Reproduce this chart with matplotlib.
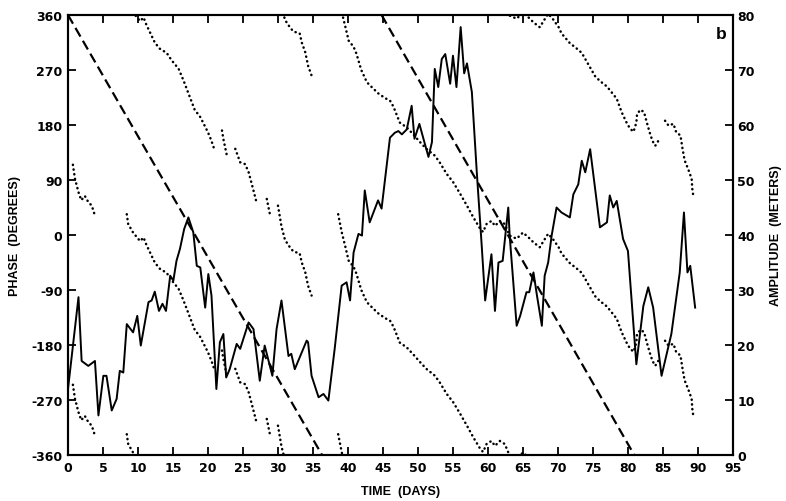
import matplotlib.pyplot as plt

plt.rcParams['font.family'] = ['Liberation Sans', 'DejaVu Sans']
plt.rcParams['font.weight'] = 'bold'
plt.rcParams['axes.labelweight'] = 'bold'
plt.rcParams['axes.unicode_minus'] = False

# amplitude (solid line, right axis)
amp_days = [0.0, 1.5, 1.95, 2.9, 3.85, 4.35, 5.05, 5.5, 6.25, 6.95, 7.4, 7.9, 8.4, 9.3, 9.9,
            10.4, 11.5, 11.95, 12.4, 13.0, 13.5, 14.0, 14.6, 15.05, 15.5, 16.0, 16.6, 17.2,
            17.9, 18.4, 18.9, 19.6, 20.05, 20.5, 21.2, 21.7, 22.2, 22.6, 23.1, 24.1, 24.6,
            25.8, 26.5, 27.4, 28.1, 28.6, 29.2, 29.8, 30.5, 31.5, 31.9, 32.4, 34.1, 34.3,
            34.8, 35.8, 36.5, 37.2, 38.1, 39.1, 39.8, 40.3, 40.8, 41.5, 42.0, 42.4, 43.1,
            44.3, 44.8, 46.0, 46.7, 47.2, 47.7, 48.4, 49.1, 49.5, 50.2, 51.5, 52.0, 52.4,
            52.9, 53.4, 53.9, 54.6, 55.0, 55.5, 56.1, 56.6, 57.0, 57.7, 58.4, 59.1, 59.6,
            60.5, 61.0, 61.5, 62.1, 62.9, 63.1, 64.1, 64.6, 65.5, 65.9, 66.5, 67.0, 67.7,
            68.1, 68.6, 69.1, 69.8, 70.5, 71.7, 72.2, 72.9, 73.4, 73.9, 74.6, 76.0, 77.0,
            77.4, 77.9, 78.4, 79.3, 80.0, 81.2, 82.2, 82.9, 83.6, 84.8, 86.2, 87.4, 88.0,
            88.5, 88.9, 89.6]
amp_vals = [12.0, 28.7, 17.1, 16.2, 17.1, 7.2, 14.4, 14.4, 8.1, 10.2, 15.3, 15.0, 23.8, 22.3, 25.3,
            19.9, 27.8, 28.1, 29.7, 26.2, 27.5, 26.2, 32.6, 31.7, 35.3, 37.5, 41.1, 43.2,
            40.5, 34.4, 34.1, 26.8, 32.9, 29.0, 12.0, 20.5, 22.0, 14.1, 15.6, 20.2, 19.3,
            24.1, 22.9, 13.5, 19.9, 17.4, 14.4, 22.9, 28.1, 18.0, 18.4, 15.6, 20.8, 20.5,
            14.4, 10.5, 11.1, 9.9, 19.3, 30.8, 31.4, 28.1, 36.8, 40.2, 39.9, 48.1, 42.3,
            46.3, 44.8, 57.7, 58.6, 58.9, 58.3, 59.2, 63.5, 57.5, 60.2, 54.2, 56.9, 70.2,
            66.9, 72.0, 72.9, 67.5, 72.6, 66.9, 77.8, 69.4, 71.2, 66.0, 51.5, 38.2, 28.1,
            36.5, 26.2, 35.0, 35.3, 45.0, 39.9, 23.5, 25.3, 29.6, 29.6, 33.2, 29.0, 23.5,
            32.6, 35.0, 39.9, 45.0, 44.1, 43.2, 47.4, 49.2, 53.5, 51.4, 55.6, 41.4, 42.3,
            47.2, 45.0, 46.2, 39.3, 37.1, 16.5, 27.1, 30.5, 26.8, 14.4, 22.0, 33.2, 44.1,
            33.2, 34.4, 26.8]

# phase (dotted, left axis), pieces with gaps; drawn modulo 360
phase_days = [
    [0.7, 1.0, 1.5, 1.9, 2.4, 2.9, 3.4, 3.9],
    [8.4, 8.6, 9.3, 10.3, 10.8, 11.2, 11.7, 12.4, 13.1, 14.1, 14.8, 15.8, 16.5, 17.2,
     17.7, 18.1, 18.9, 19.3, 20.0, 20.5, 21.0],
    [22.0, 22.2, 22.7],
    [23.9, 24.6, 25.3, 25.8, 26.2, 26.9],
    [28.4, 28.9],
    [30.0, 30.5, 31.0, 31.7, 32.2, 33.1, 33.4, 33.9, 34.3, 34.8],
    [38.6, 39.1, 39.6, 40.1, 40.8, 41.2, 41.9, 42.7, 43.4, 44.3, 45.3, 46.0, 46.5, 47.4,
     48.4, 49.3, 50.3, 51.2, 52.4, 53.1, 54.1, 55.0, 56.0, 57.0, 57.9, 58.9, 59.3, 59.8,
     60.5, 61.0, 61.7, 62.4, 63.1, 64.1, 65.0, 65.8, 66.5, 67.4, 68.1, 68.6, 69.3, 70.1,
     70.5, 71.7, 72.7, 73.4, 74.3, 75.3, 76.0, 77.0, 77.7, 78.4, 79.1, 79.8, 80.3, 80.8,
     81.2, 81.3, 81.8, 82.3, 82.7, 83.1, 83.5, 83.9, 84.5],
    [85.3, 85.8, 86.5, 86.9, 87.5, 87.8, 88.1, 88.6, 89.1, 89.2, 89.3],
]
phase_vals = [
    [115, 92, 70, 57, 64, 54, 48, 30],
    [34, 18, 4, -10, -4, -16, -28, -45, -55, -62, -74, -88, -107, -128,
     -143, -155, -167, -176, -192, -206, -223],
    [171, 157, 130],
    [141, 119, 116, 103, 86, 55],
    [59, 31],
    [48, 14, -8, -20, -27, -30, -45, -61, -83, -99],
    [34, 5, -18, -42, -52, -63, -90, -110, -118, -128, -136, -140, -150, -176,
     -184, -195, -208, -219, -230, -241, -260, -273, -292, -312, -331, -350, -355, -342,
     -337, -345, -337, -342, -361, -366, -356, -364, -372, -380, -367, -358, -367, -380,
     -390, -406, -415, -422, -440, -460, -468, -477, -487, -497, -519, -536, -546, -551,
     -536, -522, -515, -519, -536, -552, -566, -574, -563],
    [-533, -541, -538, -552, -557, -579, -598, -612, -628, -645, -653],
]

# straight dashed reference lines
ref_days = [[0, 36.3], [44.8, 80.9]]
ref_phase = [[360, -360], [360, -360]]

fig = plt.figure(figsize=(7.86, 5.02), dpi=100)
ax = fig.add_axes([0.0865, 0.0916, 0.846, 0.8765])
ax2 = ax.twinx()

for d, p in zip(phase_days, phase_vals):
    for k in range(-2, 4):
        ax.plot(d, [v + 360 * k for v in p], color='black', lw=1.8,
                linestyle=(0, (0.1, 1.8)), dash_capstyle='round')

for d, p in zip(ref_days, ref_phase):
    ax.plot(d, p, color='black', lw=1.6, linestyle=(0, (4.5, 2.2)))

ax2.plot(amp_days, amp_vals, color='black', lw=1.4)

ax.set_xlim(0, 95)
ax.set_ylim(-360, 360)
ax2.set_ylim(0, 80)
ax.set_xticks(range(0, 96, 5))
ax.set_yticks(range(-360, 361, 90))
ax2.set_yticks(range(0, 81, 10))

ax.tick_params(direction='in', top=True, length=6, width=1.3, pad=4)
ax2.tick_params(direction='in', length=6, width=1.3, pad=3)
for lab in ax.get_xticklabels() + ax.get_yticklabels() + ax2.get_yticklabels():
    lab.set_family('DejaVu Sans')
    lab.set_fontsize(9)
for a in (ax, ax2):
    for s in a.spines.values():
        s.set_linewidth(1.5)

ax.set_xlabel('TIME  (DAYS)', fontsize=9, labelpad=8)
ax.set_ylabel('PHASE  (DEGREES)', fontsize=9, labelpad=7)
ax2.set_ylabel('AMPLITUDE  (METERS)', fontsize=9, labelpad=11)

ax.text(0.99, 0.975, 'b', transform=ax.transAxes, ha='right', va='top',
        fontsize=12.5, fontweight='bold')

fig.savefig('out.png', dpi=100)
